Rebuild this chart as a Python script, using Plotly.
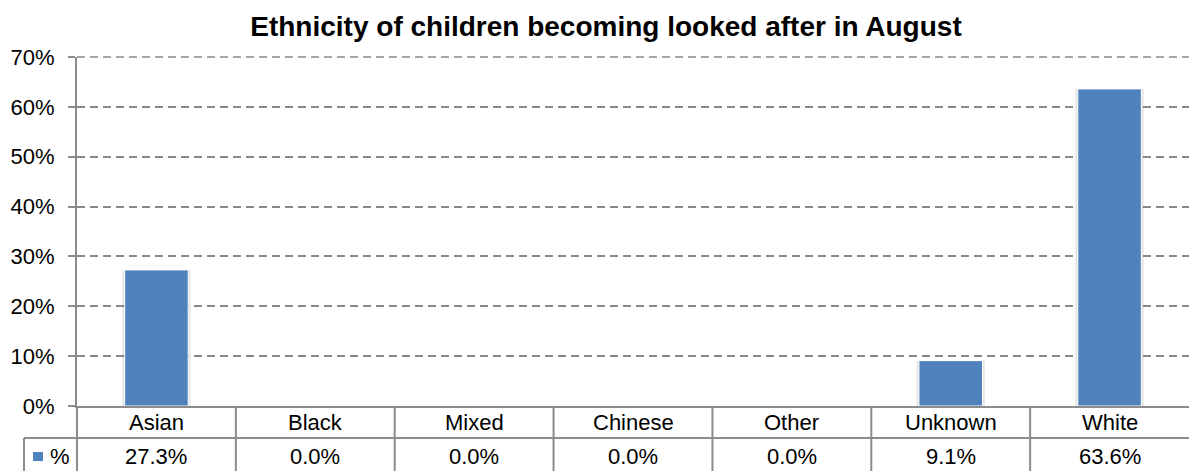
import plotly.graph_objects as go

categories = ["Asian", "Black", "Mixed", "Chinese", "Other", "Unknown", "White"]
values = [27.3, 0.0, 0.0, 0.0, 0.0, 9.1, 63.6]
value_labels = ["27.3%", "0.0%", "0.0%", "0.0%", "0.0%", "9.1%", "63.6%"]
y_ticks = [0, 10, 20, 30, 40, 50, 60, 70]
y_tick_labels = ["0%", "10%", "20%", "30%", "40%", "50%", "60%", "70%"]
series_name = "%"
title = "Ethnicity of children becoming looked after in August"

W, H = 1189, 471
L, R_PX, T, B_PX = 77, 1189, 57, 406
PW, PH = R_PX - L, B_PX - T
Y_MAX = 70
BAR = "#4F81BD"
LINE = "#8C8C8C"
GRID = "#888888"
FONT = "Liberation Sans, Arial, sans-serif"
FS = 22


def px2x(px):
    return (px - L) / PW


def py2y(py):
    return (B_PX - py) / PH


fig = go.Figure()
idx = list(range(len(categories)))
# soft shadow behind bars
fig.add_trace(go.Bar(x=idx, y=values, width=0.43, marker=dict(color="rgba(0,0,0,0.10)", line=dict(width=0)),
                     hoverinfo="skip", showlegend=False))
fig.add_trace(go.Bar(x=idx, y=values, width=0.4, marker=dict(color=BAR, line=dict(color="white", width=1)),
                     name=series_name, showlegend=False))

shapes = []
# top gridline (at range edge; drawn in paper coords so it is not clipped)
shapes.append(dict(type="line", xref="paper", yref="paper", x0=0, x1=1,
                   y0=y_ticks[-1] / Y_MAX, y1=y_ticks[-1] / Y_MAX,
                   line=dict(color=GRID, width=1.5, dash="8px,5px")))
row_top, row_mid, row_bot = 406, 438, 471
for k in range(len(categories) - 1):
    shapes.append(dict(type="line", xref="x", yref="paper", x0=k + 0.5, x1=k + 0.5,
                       y0=py2y(row_top), y1=py2y(row_bot), line=dict(color=LINE, width=2)))
shapes.append(dict(type="line", xref="paper", yref="paper", x0=0, x1=0,
                   y0=py2y(row_top), y1=py2y(row_bot), line=dict(color=LINE, width=2)))
shapes.append(dict(type="line", xref="paper", yref="paper", x0=px2x(24), x1=1.0,
                   y0=py2y(row_mid), y1=py2y(row_mid), line=dict(color=LINE, width=2)))
shapes.append(dict(type="line", xref="paper", yref="paper", x0=px2x(24), x1=px2x(24),
                   y0=py2y(row_mid), y1=py2y(row_bot), line=dict(color=LINE, width=2)))
shapes.append(dict(type="rect", xref="paper", yref="paper", x0=px2x(33), x1=px2x(43),
                   y0=py2y(461), y1=py2y(452), fillcolor=BAR, line=dict(width=0)))

annotations = []
for k, (c, v) in enumerate(zip(categories, value_labels)):
    annotations.append(dict(x=k, y=py2y(423), xref="x", yref="paper", text=c, showarrow=False,
                            font=dict(size=FS, color="#000000", family=FONT), xanchor="center", yanchor="middle"))
    annotations.append(dict(x=k, y=py2y(456), xref="x", yref="paper", text=v, showarrow=False,
                            font=dict(size=FS, color="#000000", family=FONT), xanchor="center", yanchor="middle"))
annotations.append(dict(x=px2x(48), y=py2y(456), xref="paper", yref="paper", text=series_name, showarrow=False,
                        font=dict(size=FS, color="#000000", family=FONT), xanchor="left", yanchor="middle"))

fig.update_layout(
    width=W, height=H,
    margin=dict(l=L, r=W - R_PX, t=T, b=H - B_PX, pad=0),
    paper_bgcolor="white", plot_bgcolor="white",
    barmode="overlay",
    title=dict(text="<b>" + title + "</b>", x=606 / W, xref="container", xanchor="center",
               y=1 - 26 / H, yref="container", yanchor="middle",
               font=dict(size=28, color="#000000", family=FONT)),
    xaxis=dict(range=[-0.5, len(categories) - 0.5], showticklabels=False, showgrid=False, zeroline=False,
               showline=True, linecolor=LINE, linewidth=2, ticks="", fixedrange=True),
    yaxis=dict(range=[0, Y_MAX], tickvals=y_ticks, ticktext=y_tick_labels, showgrid=True, gridcolor=GRID,
               gridwidth=1.5, griddash="8px,5px", zeroline=False, showline=True, linecolor=LINE, linewidth=2,
               ticks="outside", ticklen=7, tickcolor=LINE, tickwidth=2,
               tickfont=dict(size=FS, color="#000000", family=FONT), ticklabelstandoff=9),
    shapes=shapes,
    annotations=annotations,
    showlegend=False,
)

fig.write_html("out.html", config={"displayModeBar": False},
               post_script="document.body.style.margin='0';document.body.style.overflow='hidden';")
